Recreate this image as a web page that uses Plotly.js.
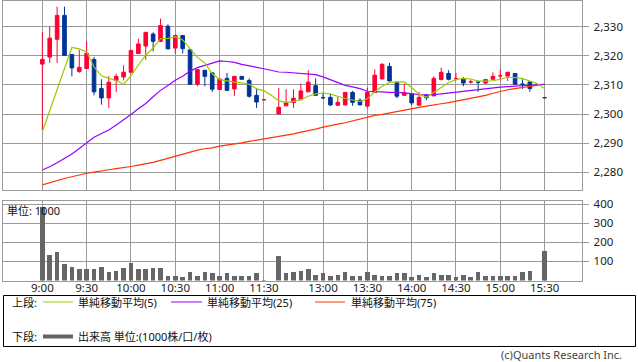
<!DOCTYPE html>
<html>
<head>
<meta charset="utf-8">
<script src="https://cdn.plot.ly/plotly-3.0.1.min.js"></script>
<style>
html,body{margin:0;padding:0;background:#fff;}
#chart{width:638px;height:362px;}
</style>
</head>
<body>
<div id="chart"></div>
<script>
// ---- time slots (null = lunch-break separator) ----
const times = ["9:00","9:05","9:10","9:15","9:20","9:25","9:30","9:35","9:40","9:45","9:50","9:55",
"10:00","10:05","10:10","10:15","10:20","10:25","10:30","10:35","10:40","10:45","10:50","10:55",
"11:00","11:05","11:10","11:15","11:20","11:25","11:30",null,
"12:30","12:35","12:40","12:45","12:50","12:55","13:00","13:05","13:10","13:15","13:20","13:25",
"13:30","13:35","13:40","13:45","13:50","13:55","14:00","14:05","14:10","14:15","14:20","14:25",
"14:30","14:35","14:40","14:45","14:50","14:55","15:00","15:05","15:10","15:15","15:20","15:25","15:30"];

const tickLabels = ["9:00","9:30","10:00","10:30","11:00","11:30","13:00","13:30","14:00","14:30","15:00","15:30"];
const priceTicks = [2280,2290,2300,2310,2320,2330];
const volumeTicks = [100,200,300,400];

// ---- 5-minute OHLC ----
const open = [2317.1,2319.5,2325.6,2333.8,2320.4,2314.6,2315.6,2318.7,2308.7,2305.5,2311.5,2312.7,
2314.3,2320.7,2323.3,2327.4,2324.9,2330.1,2322.6,2326.9,2322.0,2310.2,2315.0,2314.1,
2308.4,2312.2,2308.6,2312.9,2311.5,2306.4,2304.9,null,
2300.0,2302.8,2303.9,2304.9,2307.6,2309.7,2305.6,2305.7,2303.0,2303.1,2307.4,2304.7,
2302.7,2307.4,2312.0,2316.3,2310.9,2306.4,2306.8,2303.0,2306.5,2306.2,2311.8,2313.9,
2312.1,2312.0,2311.0,2310.9,2310.6,2311.9,2313.1,2313.0,2313.9,2310.2,2311.0,null,2305.6];
const high = [2328.1,2330.0,2336.8,2336.8,2320.4,2322.0,2324.9,2319.5,2311.9,2313.0,2313.8,2316.7,
2321.8,2325.8,2328.0,2328.0,2332.7,2330.7,2327.2,2326.9,2322.0,2315.2,2315.0,2314.1,
2312.0,2314.1,2312.9,2312.9,2312.2,2308.7,2304.9,null,
2308.9,2308.5,2308.5,2310.4,2315.0,2312.2,2307.4,2307.1,2305.9,2307.4,2307.9,2305.4,
2309.0,2315.3,2317.5,2317.5,2310.9,2310.4,2306.8,2307.6,2306.5,2312.9,2315.9,2315.0,
2314.1,2312.7,2311.8,2311.5,2312.0,2314.3,2315.3,2314.3,2313.9,2311.9,2311.0,null,2305.6];
const low = [2294.5,2317.5,2317.5,2320.1,2312.9,2314.1,2315.6,2306.4,2303.2,2302.1,2307.6,2311.5,
2314.3,2320.7,2318.6,2321.5,2324.6,2322.3,2320.7,2320.7,2310.2,2309.5,2309.5,2307.6,
2308.4,2308.1,2306.2,2311.9,2305.6,2302.1,2304.9,null,
2300.0,2302.8,2302.1,2304.9,2307.6,2306.4,2305.1,2302.7,2302.8,2303.1,2302.8,2303.1,
2302.0,2307.4,2312.0,2311.3,2305.4,2306.4,2303.0,2303.0,2304.7,2306.2,2311.5,2311.5,
2311.5,2309.5,2310.4,2307.6,2310.2,2311.9,2311.5,2311.3,2310.0,2308.6,2307.6,null,2305.6];
const close = [2318.7,2326.0,2333.8,2320.1,2315.8,2316.0,2320.8,2307.6,2305.5,2310.9,2312.9,2314.3,
2321.8,2324.0,2328.0,2324.9,2330.3,2322.3,2326.9,2322.4,2310.2,2315.2,2312.9,2308.5,
2312.0,2308.1,2312.9,2311.9,2306.1,2304.1,2304.9,null,
2302.3,2303.9,2305.4,2307.9,2310.9,2306.4,2305.6,2303.1,2304.0,2307.4,2304.0,2303.1,
2307.4,2313.3,2317.0,2311.3,2306.1,2307.3,2303.8,2305.7,2305.6,2312.2,2314.3,2311.9,
2312.1,2310.6,2311.0,2310.9,2311.8,2312.9,2313.1,2314.3,2310.2,2310.2,2308.7,null,2305.6];

// ---- moving averages ----
const ma5 = [2293.9,2301.1,2308.2,2315.4,2322.8,2322.3,2321.3,2316.1,2313.1,2312.2,2311.5,2310.2,
2313.1,2316.8,2320.2,2322.6,2325.8,2325.9,2326.5,2325.4,2322.4,2319.4,2317.5,2313.8,
2311.8,2311.3,2310.9,2310.7,2310.2,2308.6,2308.0,2306.4,
2304.5,2304.0,2304.3,2304.9,2306.1,2306.9,2307.2,2306.8,2306.0,2305.3,2304.8,2304.3,
2305.2,2307.6,2309.5,2310.8,2311.0,2311.0,2309.1,2306.8,2305.7,2307.5,2309.2,2310.8,
2311.8,2312.2,2312.0,2311.3,2311.3,2311.4,2311.9,2312.6,2312.5,2312.1,2311.3,2310.4,2308.7];
const ma25 = [2280.8,2281.9,2283.3,2284.7,2286.3,2288.2,2290.1,2292.0,2293.3,2294.5,2296.2,2297.9,
2299.8,2301.8,2303.6,2305.9,2308.1,2309.8,2311.6,2312.9,2314.7,2315.9,2316.7,2317.5,
2318.2,2318.0,2317.7,2317.0,2316.6,2316.0,2315.5,2315.0,
2314.4,2314.3,2314.1,2313.9,2313.8,2313.5,2312.7,2311.8,2310.7,2309.8,2309.3,2308.7,
2307.8,2307.6,2307.4,2307.4,2307.4,2307.3,2307.0,2306.6,2306.6,2306.6,2306.9,2307.2,
2307.6,2307.9,2308.1,2308.5,2308.7,2308.9,2309.2,2309.4,2309.6,2309.7,2309.9,2310.1,2310.2];
const ma75 = [2275.7,2276.5,2277.3,2277.9,2278.5,2279.2,2279.7,2280.1,2280.6,2280.9,2281.3,2281.6,
2282.0,2282.5,2282.9,2283.4,2284.1,2284.8,2285.5,2286.3,2287.1,2287.6,2288.1,2288.4,
2289.0,2289.3,2289.8,2290.1,2290.6,2291.0,2291.5,2291.8,
2292.3,2292.8,2293.2,2293.8,2294.2,2294.8,2295.5,2296.1,2296.5,2297.0,2297.6,2298.3,
2299.0,2299.5,2299.9,2300.4,2301.0,2301.4,2301.9,2302.3,2302.7,2303.0,2303.5,2303.9,
2304.4,2304.8,2305.3,2305.8,2306.4,2307.1,2307.8,2308.3,2308.7,2309.1,2309.5,2309.8,2310.2];

// ---- volume (unit: 1000) ----
const volume = [385,131,147,84,73,58,58,58,73,47,52,68,
89,58,58,68,68,26,26,16,42,21,47,37,
21,37,26,26,26,37,4,null,
126,37,47,52,58,31,37,26,31,47,21,21,
42,31,26,21,37,37,16,31,16,37,31,31,
16,31,16,47,26,21,26,26,21,47,52,null,157];

// ---- build traces ----
const slot = times.map((t,i)=>i);
const hasBar = slot.filter(i => open[i] !== null);
const hasVol = slot.filter(i => volume[i] !== null);
const tickPos = tickLabels.map(t => times.indexOf(t));

const RED = '#ff0033', BLUE = '#003399';
const W = 638, H = 362;
const px = x => x / W;
const py = y => 1 - y / H;
const FONT = 'Noto Sans, Noto Sans CJK JP, sans-serif';

const traces = [
  {
    type: 'candlestick', xaxis: 'x', yaxis: 'y',
    x: hasBar, open: hasBar.map(i=>open[i]), high: hasBar.map(i=>high[i]),
    low: hasBar.map(i=>low[i]), close: hasBar.map(i=>close[i]),
    increasing: {line: {color: RED, width: 1}, fillcolor: RED},
    decreasing: {line: {color: BLUE, width: 1}, fillcolor: BLUE},
    whiskerwidth: 0, hoverinfo: 'skip', showlegend: false
  },
  {type:'scatter', mode:'lines', x: slot, y: ma75, xaxis:'x', yaxis:'y',
   line:{color:'#ff3300', width:1.2}, hoverinfo:'skip', showlegend:false},
  {type:'scatter', mode:'lines', x: slot, y: ma25, xaxis:'x', yaxis:'y',
   line:{color:'#9900ff', width:1.2}, hoverinfo:'skip', showlegend:false},
  {type:'scatter', mode:'lines', x: slot, y: ma5, xaxis:'x', yaxis:'y',
   line:{color:'#99cc00', width:1.2}, hoverinfo:'skip', showlegend:false},
  {type:'bar', x: hasVol, y: hasVol.map(i=>volume[i]), xaxis:'x2', yaxis:'y2',
   marker:{color:'#666666', line:{width:0}}, width: 0.62, hoverinfo:'skip', showlegend:false}
];

const xRange = [-5.325, 73.1];
const gridC = '#9a9a9a';
const tickFont = {family: FONT, size: 11.5, color: '#222'};

const layout = {
  width: W, height: H,
  margin: {l:0, r:0, t:0, b:0, pad:0},
  paper_bgcolor: '#fff', plot_bgcolor: '#fff',
  showlegend: false,
  font: {family: FONT, size: 11, color: '#222'},
  xaxis: {
    domain: [px(3), px(582.3)], range: xRange, anchor: 'y',
    tickvals: tickPos, showticklabels: false, ticks: '',
    showgrid: true, gridcolor: gridC, gridwidth: 1, zeroline: false,
    showline: true, mirror: true, linecolor: gridC, linewidth: 1,
    rangeslider: {visible: false}, fixedrange: true
  },
  yaxis: {
    domain: [py(190), py(0.5)], range: [2273.95, 2338.9], anchor: 'x', side: 'right',
    tickvals: priceTicks, tickformat: ',d', ticks: 'outside', ticklen: 6, tickcolor: gridC,
    tickfont: tickFont, ticklabelstandoff: 2,
    showgrid: true, gridcolor: gridC, gridwidth: 1, zeroline: false,
    showline: true, mirror: true, linecolor: gridC, linewidth: 1, fixedrange: true
  },
  xaxis2: {
    domain: [px(3), px(582.3)], range: xRange, anchor: 'y2',
    tickvals: tickPos, ticktext: tickLabels, ticks: '', tickfont: tickFont, ticklabelstandoff: -3,
    showgrid: true, gridcolor: gridC, gridwidth: 1, zeroline: false,
    showline: true, mirror: true, linecolor: gridC, linewidth: 1, fixedrange: true
  },
  yaxis2: {
    domain: [py(280.5), py(201)], range: [0, 416], anchor: 'x2', side: 'right',
    tickvals: volumeTicks, ticks: 'outside', ticklen: 6, tickcolor: gridC,
    tickfont: tickFont, ticklabelstandoff: 2,
    showgrid: true, gridcolor: gridC, gridwidth: 1, zeroline: false,
    showline: true, mirror: true, linecolor: gridC, linewidth: 1, fixedrange: true
  },
  bargap: 0,
  shapes: [
    {type:'rect', xref:'paper', yref:'paper', x0:px(3.5), x1:px(635.5), y0:py(295.5), y1:py(346.5),
     line:{color:'#000', width:1}, fillcolor:'rgba(0,0,0,0)'},
    {type:'line', xref:'paper', yref:'paper', x0:px(43), x1:px(73), y0:py(302), y1:py(302), line:{color:'#99cc00', width:1}},
    {type:'line', xref:'paper', yref:'paper', x0:px(171), x1:px(202), y0:py(302), y1:py(302), line:{color:'#9900ff', width:1}},
    {type:'line', xref:'paper', yref:'paper', x0:px(315), x1:px(345), y0:py(302), y1:py(302), line:{color:'#ff3300', width:1}},
    {type:'line', xref:'paper', yref:'paper', x0:px(43), x1:px(73), y0:py(336.5), y1:py(336.5), line:{color:'#666666', width:4}}
  ],
  annotations: [
    {text:'単位: 1000', x:px(6), y:py(210)},
    {text:'上段:', x:px(11), y:py(302.5)},
    {text:'単純移動平均(5)', x:px(77), y:py(302.5)},
    {text:'単純移動平均(25)', x:px(206), y:py(302.5)},
    {text:'単純移動平均(75)', x:px(350), y:py(302.5)},
    {text:'下段:', x:px(11), y:py(336.5)},
    {text:'出来高 単位:(1000株/口/枚)', x:px(77), y:py(336.5)},
    {text:'(c)Quants Research Inc.', x:px(623), y:py(354.5), xanchor:'right', font:{family:FONT, size:11, color:'#444'}}
  ].map(a => Object.assign({xref:'paper', yref:'paper', xanchor:'left', yanchor:'middle', showarrow:false,
      font:{family:FONT, size:11, color:'#111'}, borderpad:0}, a))
};

Plotly.newPlot('chart', traces, layout, {staticPlot: true, displayModeBar: false});
</script>
</body>
</html>
